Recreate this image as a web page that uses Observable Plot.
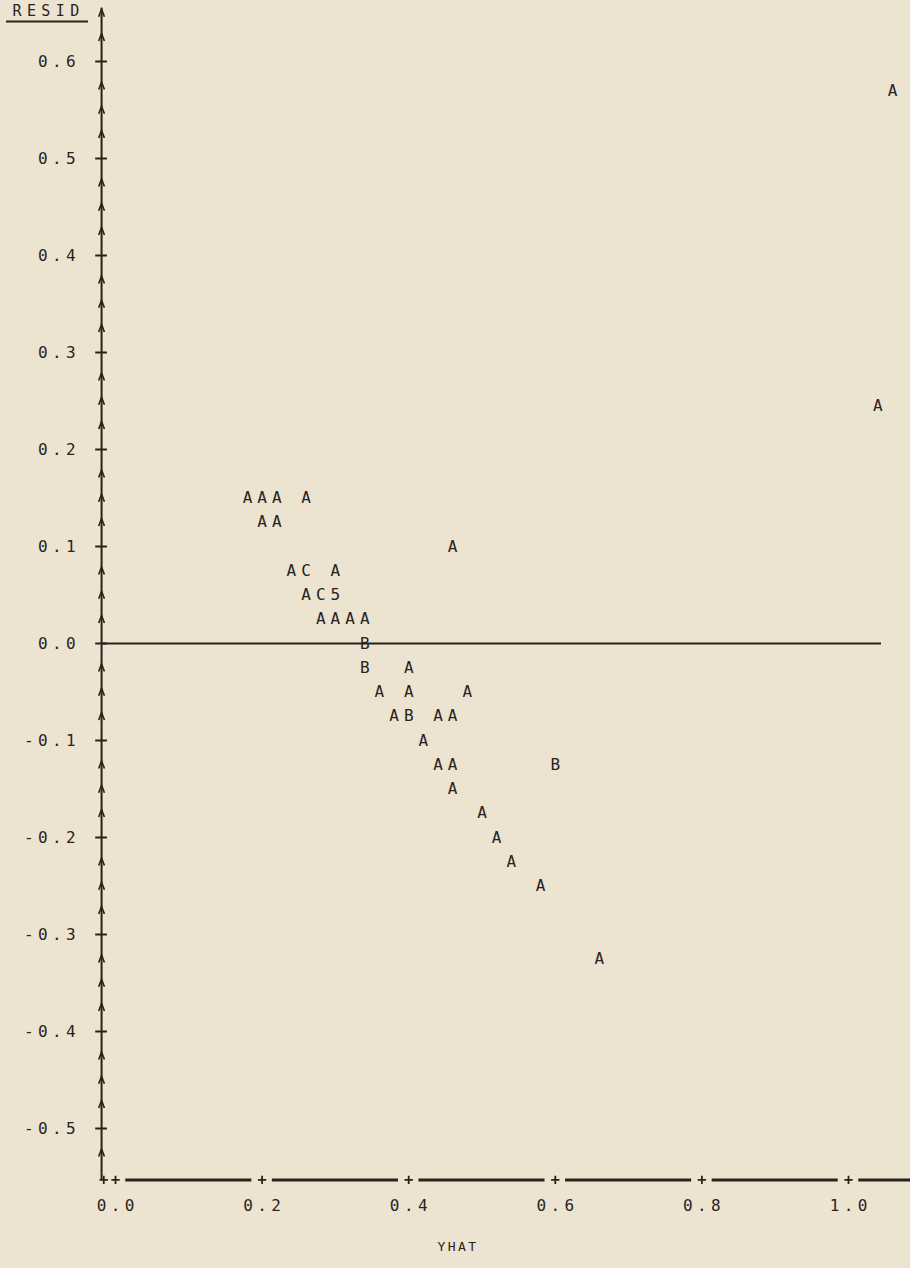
<!DOCTYPE html>
<html><head><meta charset="utf-8">
<script src="https://cdn.jsdelivr.net/npm/d3@7"></script>
<script src="https://cdn.jsdelivr.net/npm/@observablehq/plot@0.6"></script>
<style>
html,body{margin:0;padding:0;background:#ece3d1;}
#chart svg{display:block;}
#chart g[aria-description="ytick-label"] text,
#chart g[aria-description="xtick-label"] text{letter-spacing:4.4px;}
#chart g[aria-description="x-title"] text{letter-spacing:2.4px;}
#chart g[aria-description="y-title"] text{letter-spacing:5.4px;}
</style></head><body><div id="chart"></div>
<script>
// ---- data ----
const pointYhat = [
  0.18, 0.20, 0.22, 0.26,
  0.20, 0.22,
  0.46,
  0.24, 0.26, 0.30,
  0.26, 0.28, 0.30,
  0.28, 0.30, 0.32, 0.34,
  0.34,
  0.34, 0.40,
  0.36, 0.40, 0.48,
  0.38, 0.40, 0.44, 0.46,
  0.42,
  0.44, 0.46, 0.60,
  0.46,
  0.50,
  0.52,
  0.54,
  0.58,
  0.66,
  1.04,
  1.06
];
const pointResid = [
  0.15, 0.15, 0.15, 0.15,
  0.125, 0.125,
  0.10,
  0.075, 0.075, 0.075,
  0.05, 0.05, 0.05,
  0.025, 0.025, 0.025, 0.025,
  0.0,
  -0.025, -0.025,
  -0.05, -0.05, -0.05,
  -0.075, -0.075, -0.075, -0.075,
  -0.10,
  -0.125, -0.125, -0.125,
  -0.15,
  -0.175,
  -0.20,
  -0.225,
  -0.25,
  -0.325,
  0.245,
  0.57
];
const pointSymbol = [
  "A","A","A","A",
  "A","A",
  "A",
  "A","C","A",
  "A","C","5",
  "A","A","A","A",
  "B",
  "B","A",
  "A","A","A",
  "A","B","A","A",
  "A",
  "A","A","B",
  "A",
  "A",
  "A",
  "A",
  "A",
  "A",
  "A",
  "A"
];
const yTickValues = [0.6, 0.5, 0.4, 0.3, 0.2, 0.1, 0.0, -0.1, -0.2, -0.3, -0.4, -0.5];
const yTickLabels = ["0.6","0.5","0.4","0.3","0.2","0.1","0.0","-0.1","-0.2","-0.3","-0.4","-0.5"];
const xTickValues = [0.0, 0.2, 0.4, 0.6, 0.8, 1.0];
const xTickLabels = ["0.0","0.2","0.4","0.6","0.8","1.0"];
const xAxisTitle = "YHAT";
const yAxisTitle = "RESID";

// ---- layout (printer grid) ----
const ink = "#2a221c";
const font = "'DejaVu Sans Mono', 'Liberation Mono', monospace";
const W = 910, H = 1268;
const xPx0 = 115, xPxPerUnit = 733;   // pixel of yhat=0, pixels per unit
const yPx0 = 643, yPxPerUnit = 970;   // pixel of resid=0, pixels per unit
const xDomain = [-xPx0 / xPxPerUnit, (W - xPx0) / xPxPerUnit];
const yDomain = [(yPx0 - H) / yPxPerUnit, yPx0 / yPxPerUnit];
const axisX = -0.019;       // vertical axis position (yhat units)
const axisYBottom = -0.553; // horizontal axis position (resid units)
const axisYTop = 0.655;
const step = 0.025;         // printer row height
const px = p => p / yPxPerUnit;

const points = pointYhat.map((x, i) => ({x, y: pointResid[i], s: pointSymbol[i]}));
const yTicks = yTickValues.map((v, i) => ({v, label: yTickLabels[i]}));
const xTicks = xTickValues.map((v, i) => ({v, label: xTickLabels[i]}));

// arrow marks on the vertical axis at every printer row that isn't a major tick
const minor = d3.range(-21, 27).filter(k => k % 4 !== 0).map(k => k * step);

// bottom axis dashes between plus signs
const bottomStops = [...xTickValues, xDomain[1] + 0.1];
const segs = d3.pairs(bottomStops).map(([a, b]) => ({x1: a + 0.014, x2: b - 0.014}));

const chevron = {
  draw(ctx, size) {
    const s = Math.sqrt(size) * 0.6;
    ctx.moveTo(-s * 0.75, s);
    ctx.lineTo(0, -s);
    ctx.lineTo(s * 0.75, s);
  }
};

const chart = Plot.plot({
  width: W,
  height: H,
  margin: 0,
  x: {domain: xDomain, axis: null},
  y: {domain: yDomain, axis: null},
  style: {background: "transparent", fontFamily: font, color: ink},
  marks: [
    // vertical axis
    Plot.ruleX([axisX], {y1: axisYBottom, y2: axisYTop, stroke: ink, strokeWidth: 2}),
    Plot.dot(minor, {x: axisX, y: d => d, symbol: chevron, r: 3.6, stroke: ink, strokeWidth: 1.6, fill: "none"}),
    Plot.ruleY(yTicks, {y: "v", x1: axisX - 0.008, x2: axisX + 0.008, stroke: ink, strokeWidth: 2}),
    Plot.text(yTicks, {x: axisX, y: "v", text: "label", textAnchor: "end", dx: -21.5, fontSize: 16, fill: ink,
      fontFamily: font, ariaDescription: "ytick-label"}),
    // zero reference line
    Plot.ruleY([0], {x1: axisX, x2: 1.045, stroke: ink, strokeWidth: 2}),
    // bottom axis
    Plot.ruleY(segs, {y: axisYBottom, x1: "x1", x2: "x2", stroke: ink, strokeWidth: 3}),
    Plot.dot([axisX + 0.003, ...xTickValues], {x: d => d, y: axisYBottom, symbol: "plus", r: 2.8, stroke: ink, strokeWidth: 1.8}),
    Plot.text(xTicks, {x: "v", y: axisYBottom - px(26), text: "label", dx: 2.2, fontSize: 16, fill: ink,
      fontFamily: font, ariaDescription: "xtick-label"}),
    Plot.text([xAxisTitle], {x: 0.466, y: axisYBottom - px(67), dx: 1, fontSize: 13, fill: ink,
      fontFamily: font, ariaDescription: "x-title"}),
    // RESID label (underlined)
    Plot.text([yAxisTitle], {frameAnchor: "top-left", dx: 12, dy: 5, textAnchor: "start", lineAnchor: "top",
      fontSize: 15, fill: ink, fontFamily: font, ariaDescription: "y-title"}),
    Plot.ruleY([yAxisTitle], {y: () => yDomain[1] - px(21), x1: xDomain[0] + 6 / xPxPerUnit, x2: xDomain[0] + 88 / xPxPerUnit,
      stroke: ink, strokeWidth: 1.8}),
    // plotted characters
    Plot.text(points, {x: "x", y: "y", text: "s", fontSize: 16, fill: ink, fontFamily: font})
  ]
});
document.getElementById("chart").appendChild(chart);
</script>
</body></html>
